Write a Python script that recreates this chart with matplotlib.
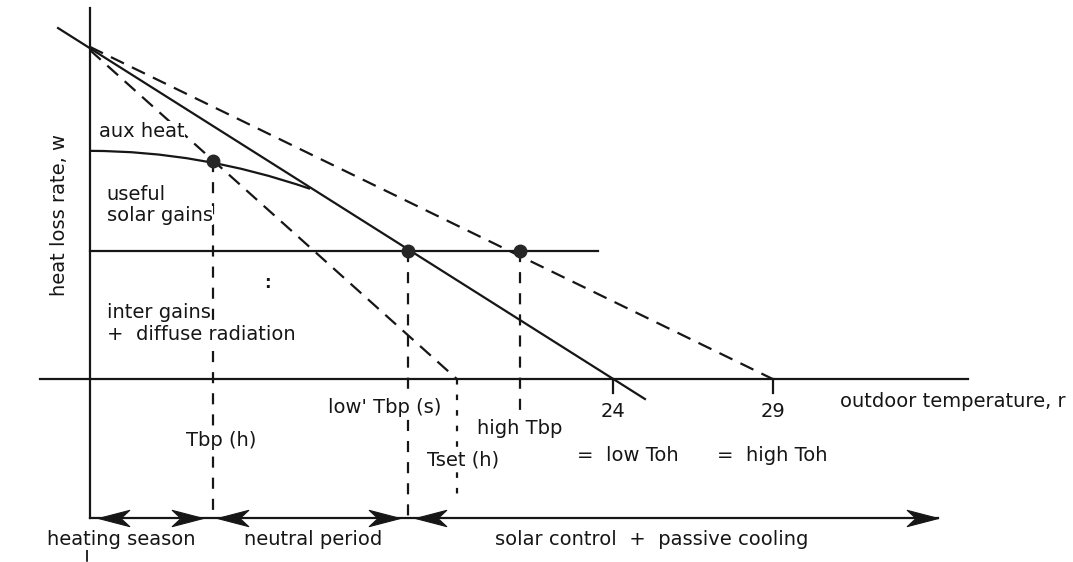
import matplotlib
matplotlib.use("Agg")
import matplotlib.pyplot as plt
from matplotlib.path import Path
from matplotlib.patches import PathPatch
import numpy as np

# ---------------- data (temperature in deg C, heat loss rate in arbitrary units) -------------
T_axis = 7.6                       # position of the vertical (heat loss) axis
axis_top = 11.63
season_y = -4.36                   # level of the season arrows
x_axis_T = [6.03, 35.12]           # extent of the outdoor temperature axis

loss_T = [6.6, 25.0]               # solid heat-loss line
loss_y = [11.0, -0.63]
high_T = [7.6, 29.0]               # upper dashed line (to high Toh)
high_y = [10.41, 0.0]
low_T = [7.6, 19.1]                # lower dashed line (to Tset (h))
low_y = [10.31, 0.0]

gains_y = 4.0                      # internal gains + diffuse radiation
gains_T = [7.6, 23.52]
solar_curve_T = [7.6, 11.05, 14.5]  # useful solar gains curve (start, control, end)
solar_curve_y = [7.15, 7.15, 5.96]

Tbp_h = 11.46
Tbp_h_y = 6.82
Tbp_low = 17.57
Tset_h = 19.1
Tbp_high = 21.08
low_Toh = 24
high_Toh = 29
dots_T = [Tbp_h, Tbp_low, Tbp_high]
dots_y = [Tbp_h_y, gains_y, gains_y]

season_end_T = 34.18
right_tips = [11.14, 17.32, 34.18]
left_tips = [7.85, 11.58, 17.79]

tick_labels = ["24", "29"]
season_labels = ["heating season", "neutral period", "solar control  +  passive cooling"]
season_label_T = [8.57, 14.59, 25.22]

# ---------------- figure ------------------------------------------------------------------
INK = "#161616"
plt.rcParams["font.family"] = ["DejaVu Sans"]
FS = 14

fig = plt.figure(figsize=(10.73, 5.62), dpi=100)
ax = fig.add_axes([0, 0, 1, 1])
ax.set_xlim(4.78, 38.42)
ax.set_ylim(-5.74, 11.88)
ax.axis("off")

lw = 1.6
dash = (0, (6.5, 4))
vdash = (0, (5, 4.5))
dot = (0, (2.5, 4.5))

# axes
ax.plot([T_axis, T_axis], [axis_top, season_y], color=INK, lw=lw)
ax.plot([T_axis - 0.08, T_axis - 0.08], [-5.35, -5.74], color=INK, lw=1.3, ls=dash)
ax.plot(x_axis_T, [0, 0], color=INK, lw=lw)

# main lines
ax.plot(loss_T, loss_y, color=INK, lw=lw)
ax.plot(high_T, high_y, color=INK, lw=lw, ls=dash)
ax.plot(low_T, low_y, color=INK, lw=lw, ls=dash)
ax.plot(gains_T, [gains_y, gains_y], color=INK, lw=lw)

curve = Path(list(zip(solar_curve_T, solar_curve_y)), [Path.MOVETO, Path.CURVE3, Path.CURVE3])
ax.add_patch(PathPatch(curve, fill=False, edgecolor=INK, lw=lw))

# vertical dashed markers
ax.plot([Tbp_h, Tbp_h], [Tbp_h_y, season_y], color=INK, lw=lw, ls=vdash)
ax.plot([Tbp_low, Tbp_low], [gains_y, season_y], color=INK, lw=lw, ls=vdash)
ax.plot([Tbp_high, Tbp_high], [gains_y, -0.97], color=INK, lw=lw, ls=vdash)
ax.plot([Tset_h, Tset_h], [0, -3.64], color=INK, lw=lw, ls=dot)

# ticks at low/high Toh
for t in (low_Toh, high_Toh):
    ax.plot([t, t], [0, -0.44], color=INK, lw=lw)

# dots
ax.plot(dots_T, dots_y, "o", color="#262626", ms=9, zorder=5)

# season arrows
ax.plot([T_axis, season_end_T], [season_y, season_y], color=INK, lw=lw)
head_r = Path([(0, 0), (-1, 0.26), (-0.72, 0), (-1, -0.26), (0, 0)],
              [Path.MOVETO, Path.LINETO, Path.LINETO, Path.LINETO, Path.CLOSEPOLY])
head_l = Path([(0, 0), (1, 0.26), (0.72, 0), (1, -0.26), (0, 0)],
              [Path.MOVETO, Path.LINETO, Path.LINETO, Path.LINETO, Path.CLOSEPOLY])
ax.plot(right_tips, [season_y] * len(right_tips), ls="none", marker=head_r, ms=45,
        color=INK, mew=0.8, zorder=4)
ax.plot(left_tips, [season_y] * len(left_tips), ls="none", marker=head_l, ms=45,
        color=INK, mew=0.8, zorder=4)

# ---------------- texts -------------------------------------------------------------------
tk = dict(color=INK, fontsize=FS, zorder=6)
wb = dict(facecolor="white", edgecolor="none", pad=0.3)
ax.text(7.88, 7.59, "aux heat", ha="left", va="baseline", bbox=wb, **tk)
ax.text(8.13, 5.61, "useful", ha="left", va="baseline", **tk)
ax.text(8.13, 4.95, "solar gains", ha="left", va="baseline", bbox=wb, **tk)
ax.text(8.13, 1.91, "inter gains", ha="left", va="baseline", bbox=wb, **tk)
ax.text(8.13, 1.22, "+  diffuse radiation", ha="left", va="baseline", bbox=wb, **tk)
ax.text(6.63, 5.14, "heat loss rate, w", rotation=90, ha="center", va="center", **tk)
ax.text(13.18, 3.0, ":", ha="center", va="center", color=INK, fontsize=12,
        fontweight="bold")

ax.text(16.85, -0.91, "low' Tbp (s)", ha="center", va="center", bbox=wb, **tk)
ax.text(11.71, -1.94, "Tbp (h)", ha="center", va="center", bbox=wb, **tk)
ax.text(19.73, -1.54, "high Tbp", ha="left", va="center", **tk)
ax.text(18.16, -2.54, "Tset (h)", ha="left", va="center", bbox=wb, **tk)
for t, lab in zip((low_Toh, high_Toh), tick_labels):
    ax.text(t, -1.03, lab, ha="center", va="center", **tk)
ax.text(22.87, -2.57, "=  low Toh", ha="left", va="baseline", **tk)
ax.text(27.26, -2.57, "=  high Toh", ha="left", va="baseline", **tk)
ax.text(31.11, -0.88, "outdoor temperature, r", ha="left", va="baseline", **tk)

for t, lab in zip(season_label_T, season_labels):
    ax.text(t, -5.05, lab, ha="center", va="center", **tk)

fig.savefig("out.png", dpi=100, facecolor="white")
